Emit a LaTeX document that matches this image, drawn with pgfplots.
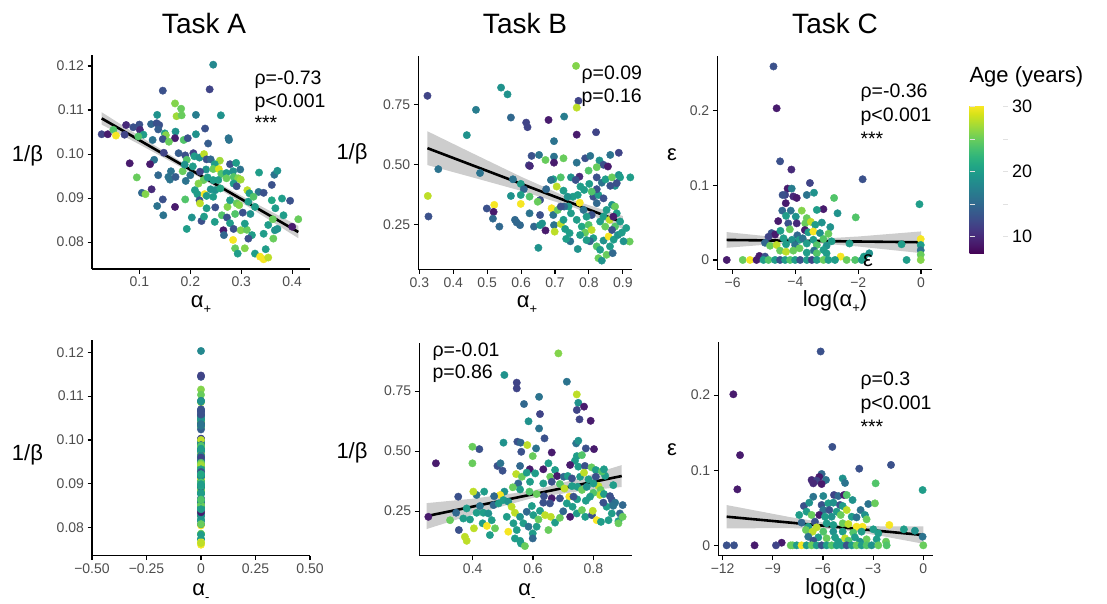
\documentclass[border=0pt]{standalone}
\usepackage{fontspec}
\setmainfont{Liberation Sans}
\usepackage{pgfplots}
\usepackage{pgfplotstable}
\pgfplotsset{compat=1.18}
\definecolor{tickgray}{RGB}{77,77,77}
\definecolor{cbtick}{RGB}{225,225,225}
\newcommand{\fs}[1]{\fontsize{#1}{#1}\selectfont}
\newcommand{\sub}[1]{\raisebox{-0.28em}{\fs{13}#1}}

\pgfplotstableread{
x y a
0.245 0.1203 18
0.146 0.1144 13
0.238 0.1147 12
0.170 0.1115 26
0.182 0.1103 25
0.135 0.1089 19
0.173 0.1086 27
0.183 0.1088 25
0.211 0.1089 17
0.260 0.1088 19
0.026 0.1045 12
0.038 0.1045 9
0.049 0.1055 24
0.054 0.1042 30
0.074 0.1066 10
0.071 0.1044 12
0.088 0.1061 13
0.100 0.1067 13
0.101 0.1055 10
0.108 0.1044 20
0.098 0.1040 24
0.123 0.1068 15
0.134 0.1070 13
0.139 0.1066 13
0.137 0.1056 14
0.150 0.1047 20
0.152 0.1043 26
0.146 0.1034 13
0.126 0.1032 16
0.171 0.1051 19
0.170 0.1036 9
0.158 0.1028 25
0.187 0.1032 24
0.195 0.1036 13
0.211 0.1045 19
0.229 0.1058 13
0.235 0.1024 14
0.129 0.0987 16
0.081 0.0979 9
0.121 0.0977 9
0.148 0.1003 12
0.177 0.1002 14
0.190 0.0997 13
0.206 0.1002 12
0.208 0.0995 20
0.218 0.0992 19
0.227 0.1000 28
0.232 0.0988 13
0.240 0.0988 15
0.258 0.0985 27
0.248 0.0977 20
0.278 0.0977 13
0.275 0.1036 16
0.276 0.1032 16
0.193 0.0987 24
0.185 0.0961 25
0.162 0.0961 16
0.189 0.0976 19
0.205 0.0972 20
0.231 0.0965 19
0.245 0.0966 25
0.256 0.0966 29
0.261 0.0955 24
0.271 0.0957 20
0.284 0.0961 19
0.298 0.0965 16
0.290 0.0980 20
0.335 0.0958 20
0.365 0.0953 16
0.371 0.0962 19
0.360 0.0930 13
0.095 0.0947 25
0.137 0.0952 15
0.157 0.0948 16
0.160 0.0942 16
0.171 0.0948 14
0.191 0.0939 16
0.200 0.0952 16
0.219 0.0960 12
0.226 0.0941 25
0.216 0.0933 26
0.234 0.0947 20
0.245 0.0941 20
0.255 0.0941 20
0.271 0.0945 25
0.285 0.0948 24
0.294 0.0945 26
0.299 0.0942 27
0.285 0.0933 20
0.291 0.0927 13
0.312 0.0918 28
0.316 0.0911 20
0.334 0.0914 16
0.344 0.0912 13
0.105 0.0912 15
0.124 0.0920 10
0.112 0.0909 26
0.146 0.0897 13
0.135 0.0882 16
0.170 0.0880 9
0.147 0.0861 16
0.190 0.0897 24
0.209 0.0918 20
0.214 0.0909 20
0.218 0.0895 13
0.219 0.0888 28
0.228 0.0909 30
0.232 0.0905 20
0.240 0.0920 19
0.249 0.0918 19
0.259 0.0922 21
0.245 0.0903 20
0.232 0.0877 20
0.249 0.0879 13
0.222 0.0848 13
0.203 0.0856 19
0.193 0.0830 20
0.227 0.0858 20
0.248 0.0846 20
0.262 0.0861 24
0.273 0.0880 26
0.278 0.0895 20
0.291 0.0888 25
0.296 0.0884 26
0.303 0.0867 13
0.314 0.0892 20
0.324 0.0903 24
0.327 0.0880 20
0.272 0.0856 13
0.278 0.0843 20
0.285 0.0830 13
0.265 0.0827 9
0.266 0.0816 15
0.284 0.0805 30
0.299 0.0827 26
0.311 0.0828 25
0.321 0.0816 20
0.314 0.0808 13
0.307 0.0786 26
0.288 0.0786 25
0.293 0.0774 20
0.327 0.0774 20
0.337 0.0767 30
0.344 0.0761 30
0.353 0.0765 28
0.348 0.0784 20
0.344 0.0819 20
0.353 0.0839 20
0.363 0.0808 25
0.366 0.0827 19
0.371 0.0830 19
0.362 0.0852 25
0.383 0.0861 20
0.400 0.0835 9
0.412 0.0852 25
0.396 0.0894 13
0.367 0.0877 20
0.360 0.0895 21
0.380 0.0899 20
0.307 0.0842 20
0.318 0.0864 19
0.288 0.0864 24
}\tabA

\pgfplotstableread{
x y a
0.762 0.909 26
0.324 0.785 12
0.541 0.819 19
0.560 0.791 19
0.769 0.764 12
0.764 0.736 28
0.467 0.727 17
0.570 0.695 15
0.615 0.674 12
0.619 0.655 12
0.681 0.685 9
0.727 0.699 17
0.764 0.624 9
0.821 0.634 12
0.440 0.622 19
0.697 0.597 16
0.356 0.481 16
0.479 0.465 16
0.327 0.285 13
0.325 0.370 28
0.631 0.536 13
0.653 0.540 16
0.623 0.497 12
0.626 0.494 10
0.672 0.519 25
0.697 0.533 16
0.725 0.526 25
0.697 0.508 9
0.764 0.508 16
0.789 0.526 13
0.804 0.536 16
0.831 0.517 19
0.843 0.499 13
0.856 0.492 9
0.863 0.540 16
0.888 0.549 12
0.823 0.489 25
0.799 0.475 24
0.772 0.450 10
0.747 0.447 19
0.717 0.447 24
0.695 0.439 20
0.688 0.436 16
0.576 0.439 16
0.599 0.420 20
0.608 0.398 15
0.674 0.398 15
0.705 0.409 28
0.725 0.392 20
0.761 0.436 13
0.775 0.409 20
0.801 0.420 20
0.823 0.447 13
0.838 0.425 16
0.849 0.439 20
0.868 0.447 25
0.888 0.457 19
0.892 0.447 20
0.877 0.412 19
0.882 0.423 13
0.863 0.412 13
0.922 0.447 20
0.570 0.370 19
0.599 0.374 20
0.625 0.367 24
0.656 0.353 13
0.649 0.346 25
0.599 0.337 30
0.521 0.333 30
0.499 0.318 13
0.519 0.304 9
0.517 0.276 15
0.536 0.243 15
0.582 0.271 15
0.597 0.249 15
0.625 0.298 16
0.638 0.243 15
0.656 0.291 13
0.662 0.256 19
0.672 0.227 9
0.651 0.155 19
0.690 0.319 30
0.695 0.291 16
0.708 0.312 25
0.697 0.249 16
0.699 0.222 28
0.717 0.254 28
0.725 0.271 20
0.730 0.233 20
0.743 0.216 20
0.745 0.182 16
0.767 0.150 19
0.740 0.326 20
0.747 0.298 20
0.753 0.367 20
0.767 0.374 20
0.773 0.342 30
0.764 0.271 20
0.779 0.243 21
0.789 0.218 25
0.799 0.250 24
0.808 0.229 28
0.813 0.195 20
0.803 0.182 15
0.823 0.161 24
0.833 0.147 20
0.828 0.112 25
0.838 0.102 19
0.852 0.126 25
0.870 0.133 15
0.843 0.185 19
0.858 0.202 30
0.873 0.189 20
0.885 0.208 19
0.897 0.218 20
0.920 0.181 25
0.833 0.264 20
0.843 0.285 20
0.852 0.312 20
0.868 0.333 19
0.877 0.326 25
0.882 0.298 20
0.861 0.271 28
0.877 0.243 24
0.892 0.264 20
0.910 0.237 20
0.823 0.340 15
0.813 0.367 13
0.828 0.374 20
0.843 0.360 13
0.823 0.398 13
0.808 0.388 24
0.786 0.395 20
0.737 0.367 19
0.727 0.326 15
0.717 0.326 13
0.784 0.312 16
0.808 0.291 13
0.793 0.284 20
0.774 0.208 20
0.793 0.187 20
0.862 0.161 20
0.902 0.182 19
0.868 0.229 13
0.848 0.243 25
0.872 0.284 9
0.733 0.192 20
0.656 0.249 19
0.587 0.260 15
}\tabB

\pgfplotstableread{
x y a
-4.70 0.259 13
-4.60 0.203 9
-4.49 0.132 13
-4.13 0.121 10
-1.86 0.108 13
-3.54 0.103 12
-4.25 0.0955 9
-4.12 0.0955 17
-4.33 0.087 12
-4.41 0.087 13
-4.07 0.085 10
-3.96 0.083 9
-3.64 0.087 16
-3.41 0.090 19
-2.77 0.083 24
-0.05 0.0746 20
-4.31 0.076 9
-4.42 0.066 15
-4.15 0.066 16
-3.80 0.066 26
-3.11 0.068 9
-3.32 0.067 20
-2.66 0.0625 19
-2.08 0.057 24
-4.30 0.059 20
-3.99 0.058 19
-3.64 0.056 25
-4.55 0.052 9
-4.23 0.049 13
-3.96 0.049 10
-3.69 0.049 25
-3.51 0.051 28
-3.37 0.047 20
-3.16 0.050 19
-2.89 0.044 19
-4.76 0.036 13
-4.65 0.034 9
-4.48 0.039 20
-4.18 0.041 25
-3.94 0.033 15
-3.70 0.040 9
-3.59 0.037 20
-3.43 0.038 30
-3.22 0.036 19
-2.95 0.035 25
-4.86 0.031 12
-4.38 0.029 20
-4.11 0.027 19
-3.87 0.027 20
-3.77 0.029 16
-3.43 0.027 20
-3.11 0.028 24
-2.85 0.025 20
-2.28 0.022 20
-4.97 0.023 15
-4.81 0.019 25
-4.60 0.020 28
-4.30 0.021 20
-4.01 0.020 16
-3.64 0.022 20
-3.32 0.020 24
-3.01 0.019 19
-0.62 0.021 20
-0.01 0.028 30
-0.01 0.020 20
-0.01 0.013 16
-0.01 0.007 25
-0.01 0.000 26
-4.49 0.0125 25
-4.30 0.011 28
-4.07 0.0125 25
-3.87 0.0156 25
-3.64 0.0098 20
-3.41 0.0125 16
-3.11 0.0134 20
-5.15 0.0054 9
-4.97 0.0045 13
-3.32 0.0089 24
-3.01 0.0089 20
-1.82 0.0045 20
-1.65 0.0089 19
-2.56 0.0045 30
-6.19 0 9
-5.68 0 25
-5.45 0 30
-5.24 0 9
-5.02 0 20
-4.86 0 24
-4.65 0 20
-4.49 0 13
-4.33 0 20
-4.17 0 24
-4.01 0 20
-3.85 0 13
-3.64 0 20
-3.48 0 12
-3.32 0 20
-3.11 0 25
-2.95 0 20
-2.74 0 20
-2.37 0 25
-2.10 0 24
-1.89 0 20
-0.46 0 20
}\tabC

\pgfplotstableread{
x y a
0.684 0.907 26
0.505 0.817 19
0.712 0.789 16
0.546 0.785 12
0.546 0.761 12
0.745 0.736 28
0.750 0.701 19
0.570 0.696 15
0.620 0.726 16
0.769 0.685 9
0.745 0.671 12
0.623 0.654 12
0.754 0.632 12
0.791 0.626 9
0.585 0.624 19
0.620 0.594 16
0.638 0.553 13
0.502 0.535 19
0.548 0.539 13
0.559 0.535 15
0.581 0.525 28
0.743 0.532 16
0.750 0.543 19
0.422 0.508 13
0.399 0.518 25
0.561 0.497 13
0.610 0.511 16
0.599 0.479 25
0.662 0.494 9
0.775 0.511 13
0.802 0.508 9
0.278 0.449 9
0.399 0.449 25
0.557 0.438 15
0.482 0.438 13
0.492 0.449 16
0.499 0.418 13
0.651 0.449 20
0.589 0.424 9
0.634 0.424 9
0.673 0.421 20
0.739 0.460 20
0.723 0.442 9
0.750 0.435 20
0.772 0.438 13
0.794 0.432 25
0.808 0.421 20
0.745 0.479 20
0.762 0.483 24
0.544 0.404 28
0.563 0.393 25
0.579 0.410 20
0.607 0.407 20
0.657 0.393 25
0.680 0.396 9
0.702 0.393 15
0.715 0.396 20
0.729 0.386 13
0.756 0.393 20
0.769 0.410 28
0.784 0.382 20
0.808 0.393 13
0.839 0.397 20
0.551 0.365 15
0.590 0.372 20
0.634 0.365 20
0.662 0.372 13
0.689 0.363 24
0.704 0.344 28
0.729 0.354 20
0.747 0.351 20
0.762 0.338 25
0.778 0.351 19
0.817 0.354 28
0.824 0.338 25
0.822 0.317 28
0.835 0.321 20
0.855 0.312 13
0.861 0.296 13
0.872 0.285 16
0.864 0.275 15
0.844 0.268 20
0.833 0.285 13
0.800 0.326 24
0.789 0.310 20
0.775 0.293 20
0.746 0.299 20
0.720 0.310 30
0.689 0.303 13
0.662 0.303 9
0.636 0.312 13
0.612 0.321 25
0.588 0.331 24
0.533 0.349 25
0.557 0.340 20
0.505 0.331 19
0.491 0.317 30
0.471 0.312 15
0.438 0.331 20
0.413 0.317 16
0.402 0.331 28
0.352 0.310 13
0.345 0.243 15
0.325 0.212 25
0.253 0.226 9
0.354 0.171 13
0.369 0.219 20
0.380 0.261 20
0.391 0.215 20
0.374 0.143 28
0.380 0.126 28
0.404 0.178 28
0.413 0.243 20
0.424 0.271 16
0.435 0.243 20
0.452 0.240 19
0.433 0.199 20
0.447 0.188 30
0.463 0.212 20
0.474 0.178 25
0.457 0.150 20
0.469 0.275 15
0.486 0.282 20
0.502 0.296 20
0.518 0.289 19
0.529 0.268 28
0.513 0.226 20
0.518 0.164 30
0.540 0.243 28
0.535 0.199 20
0.546 0.171 20
0.540 0.136 20
0.557 0.126 20
0.560 0.115 20
0.573 0.104 25
0.557 0.226 19
0.568 0.199 20
0.585 0.185 16
0.579 0.247 15
0.596 0.271 20
0.601 0.233 20
0.599 0.157 20
0.599 0.136 15
0.612 0.185 20
0.618 0.215 25
0.623 0.251 20
0.634 0.285 13
0.640 0.233 28
0.656 0.282 13
0.659 0.226 28
0.673 0.202 20
0.651 0.171 25
0.689 0.222 25
0.700 0.249 15
0.712 0.282 20
0.723 0.226 9
0.731 0.268 20
0.745 0.240 20
0.762 0.254 25
0.773 0.226 20
0.795 0.233 13
0.811 0.212 30
0.798 0.251 28
0.825 0.205 20
0.850 0.212 20
0.861 0.240 20
0.866 0.272 16
0.883 0.208 20
0.888 0.240 15
0.897 0.275 15
0.883 0.199 25
0.897 0.226 25
0.866 0.358 20
0.828 0.415 24
0.835 0.424 20
0.800 0.365 20
0.734 0.310 13
}\tabD

\pgfplotstableread{
x y a
-6.14 0.258 13
-11.36 0.201 9
-10.96 0.120 9
-5.44 0.131 13
-3.83 0.102 13
-1.93 0.107 13
-11.12 0.0745 9
-0.04 0.0736 20
-6.08 0.095 15
-6.22 0.091 9
-6.68 0.087 10
-6.38 0.086 12
-5.82 0.087 16
-4.82 0.089 19
-4.68 0.083 16
-6.08 0.0816 9
-6.58 0.0825 10
-2.85 0.0825 24
-6.58 0.0647 16
-5.98 0.0656 18
-5.34 0.0670 12
-5.08 0.0656 15
-4.74 0.0670 9
-4.58 0.0670 24
-4.23 0.0603 19
-3.29 0.0550 16
-2.89 0.0559 25
-7.14 0.0523 13
-6.82 0.0568 19
-6.08 0.0537 13
-5.68 0.0559 20
-5.38 0.0568 19
-4.98 0.0537 13
-4.82 0.0523 20
-6.98 0.0448 20
-5.98 0.0470 16
-5.62 0.0470 13
-5.18 0.0448 20
-4.58 0.0470 28
-3.75 0.0470 16
-3.49 0.0404 19
-7.42 0.0404 20
-6.68 0.0404 25
-6.22 0.0404 9
-5.88 0.0381 20
-5.48 0.0381 19
-4.94 0.0404 25
-4.28 0.0381 20
-3.99 0.0372 16
-3.39 0.0346 25
-2.03 0.0271 30
-7.28 0.0302 15
-6.48 0.0315 13
-6.88 0.0248 20
-6.38 0.0239 28
-5.78 0.0293 20
-5.38 0.0271 20
-4.82 0.0293 25
-4.48 0.0284 28
-3.99 0.0248 30
-3.63 0.0248 30
-2.99 0.0213 20
-1.16 0.0213 20
-0.50 0.0195 19
-7.02 0.0204 25
-6.62 0.0182 28
-5.98 0.0182 24
-5.38 0.0182 19
-4.82 0.0182 20
-4.19 0.0169 24
-3.69 0.0182 20
-2.69 0.0160 20
-0.04 0.0115 16
-6.88 0.0115 16
-6.28 0.0106 20
-5.78 0.0093 25
-5.28 0.0106 20
-4.68 0.0093 28
-4.09 0.0106 20
-3.39 0.0080 25
-2.79 0.0080 20
-2.23 0.0049 25
-8.47 0.0035 9
-6.58 0.0062 13
-5.08 0.0049 20
-4.48 0.0062 24
-3.79 0.0049 19
-11.76 0 13
-11.32 0 13
-10.09 0 9
-8.81 0 12
-7.93 0 25
-7.81 0 25
-7.57 0 20
-7.28 0 30
-6.98 0 20
-6.68 0 25
-6.38 0 20
-6.08 0 13
-5.78 0 20
-5.48 0 24
-5.18 0 20
-4.88 0 20
-4.58 0 13
-4.28 0 20
-3.99 0 25
-3.69 0 20
-3.39 0 24
-3.09 0 19
-2.69 0 25
-2.19 0 24
0.00 0 25
}\tabE

\pgfplotsset{
  panel/.style={
    scale only axis,
    axis x line*=bottom, axis y line*=left,
    axis line style={-, line width=1.4pt, black},
    tick style={line width=1.1pt, black},
    major tick length=4.5pt,
    tick align=outside,
    ticklabel style={font=\fs{14}, text=tickgray},
    colormap/viridis,
    point meta min=7.34, point meta max=30.26,
  },
  pts/.style={scatter, only marks, mark=*, mark size=3.7pt, scatter src=explicit,
    scatter/use mapped color={draw=mapped color, fill=mapped color}},
  band/.style={fill=black!60, fill opacity=0.33, draw=none},
  fit/.style={black, line width=2.6pt},
}

\begin{document}
\begin{tikzpicture}
\useasboundingbox (0pt,0pt) rectangle (1107pt,603pt);

% ---- Task A, alpha+
\begin{axis}[panel, at={(92pt,334pt)}, anchor=south west, width=218pt, height=214pt,
  xmin=0.007, xmax=0.435, ymin=0.0739, ymax=0.1225,
  xtick={0.1,0.2,0.3,0.4}, xticklabels={0.1,0.2,0.3,0.4},
  ytick={0.08,0.09,0.10,0.11,0.12}, yticklabels={0.08,0.09,0.10,0.11,0.12}]
\addplot[pts] table[x=x, y=y, meta=a] {\tabA};
\addplot[band] coordinates {(0.026,0.1095) (0.1,0.1041) (0.22,0.0956) (0.32,0.0893) (0.412,0.0837)
  (0.412,0.0809) (0.32,0.0876) (0.22,0.0946) (0.1,0.1022) (0.026,0.1067)} -- cycle;
\addplot[fit] coordinates {(0.026,0.1081) (0.412,0.0823)};
\end{axis}

% ---- Task B, alpha+
\begin{axis}[panel, at={(418.3pt,333.7pt)}, anchor=south west, width=213.7pt, height=213.3pt,
  xmin=0.297, xmax=0.927, ymin=0.066, ymax=0.95,
  xtick={0.3,0.4,0.5,0.6,0.7,0.8,0.9}, xticklabels={0.3,0.4,0.5,0.6,0.7,0.8,0.9},
  ytick={0.25,0.5,0.75}, yticklabels={0.25,0.50,0.75}]
\addplot[pts] table[x=x, y=y, meta=a] {\tabB};
\addplot[band] coordinates {(0.324,0.638) (0.45,0.5515) (0.6,0.4496) (0.76,0.3499) (0.9,0.2866)
  (0.9,0.2334) (0.76,0.3199) (0.6,0.3912) (0.45,0.4497) (0.324,0.498)} -- cycle;
\addplot[fit] coordinates {(0.324,0.568) (0.9,0.260)};
\end{axis}

% ---- Task C, log alpha+
\begin{axis}[panel, at={(717.3pt,333.7pt)}, anchor=south west, width=214.4pt, height=213.3pt,
  xmin=-6.49, xmax=0.34, ymin=-0.0125, ymax=0.273,
  xtick={-6,-4,-2,0}, xticklabels={−6,−4,−2,0},
  ytick={0,0.1,0.2}, yticklabels={0,0.1,0.2}]
\addplot[pts] table[x=x, y=y, meta=a] {\tabC};
\addplot[band] coordinates {(-6.19,0.0373) (-4.8,0.0313) (-3.6,0.0275) (-2,0.0314) (0,0.0382)
  (0,0.0092) (-2,0.0180) (-3.6,0.0235) (-4.8,0.0209) (-6.19,0.0163)} -- cycle;
\addplot[fit] coordinates {(-6.19,0.0268) (0,0.0237)};
\end{axis}

% ---- Task A, alpha-
\begin{axis}[panel, at={(92pt,47.3pt)}, anchor=south west, width=218pt, height=215.7pt,
  xmin=-0.5, xmax=0.5, ymin=0.0736, ymax=0.1228,
  xtick={-0.5,-0.25,0,0.25,0.5}, xticklabels={−0.50,−0.25,0,0.25,0.50},
  ytick={0.08,0.09,0.10,0.11,0.12}, yticklabels={0.08,0.09,0.10,0.11,0.12}]
\addplot[pts] table[x expr=0, y=y, meta=a] {\tabA};
\end{axis}

% ---- Task B, alpha-
\begin{axis}[panel, at={(419.3pt,47.3pt)}, anchor=south west, width=212.7pt, height=212.4pt,
  xmin=0.223, xmax=0.928, ymin=0.064, ymax=0.949,
  xtick={0.4,0.6,0.8}, xticklabels={0.4,0.6,0.8},
  ytick={0.25,0.5,0.75}, yticklabels={0.25,0.50,0.75}]
\addplot[pts] table[x=x, y=y, meta=a] {\tabD};
\addplot[band] coordinates {(0.247,0.283) (0.4,0.3015) (0.6,0.3351) (0.75,0.3855) (0.894,0.4417)
  (0.894,0.3503) (0.75,0.3321) (0.6,0.3051) (0.4,0.2355) (0.247,0.175)} -- cycle;
\addplot[fit] coordinates {(0.247,0.229) (0.894,0.396)};
\end{axis}

% ---- Task C, log alpha-
\begin{axis}[panel, at={(718.3pt,47.3pt)}, anchor=south west, width=215pt, height=214pt,
  xmin=-12.26, xmax=0.6, ymin=-0.0138, ymax=0.271,
  xtick={-12,-9,-6,-3,0}, xticklabels={−12,−9,−6,−3,0},
  ytick={0,0.1,0.2}, yticklabels={0,0.1,0.2}]
\addplot[pts] table[x=x, y=y, meta=a] {\tabE};
\addplot[band] coordinates {(-11.76,0.0536) (-8,0.0377) (-5,0.0271) (-2.5,0.0253) (0,0.0253)
  (0,0.0021) (-2.5,0.0125) (-5,0.0211) (-8,0.0229) (-11.76,0.0226)} -- cycle;
\addplot[fit] coordinates {(-11.76,0.0381) (0,0.0137)};
\end{axis}

% ---- colour bar
\begin{axis}[hide axis, scale only axis, at={(961pt,349pt)}, anchor=south west,
  width=38pt, height=149pt, xmin=0, xmax=1, ymin=0, ymax=1,
  colormap/viridis, point meta min=7.34, point meta max=30.26,
  colorbar,
  colorbar style={at={(parent axis.south west)}, anchor=south west,
    width=38pt, height=149pt, scale only axis,
    axis line style={draw=none},
    ytick={10,20,30}, yticklabels={10,20,30}, minor ytick={15,25},
    ytick pos=both, yticklabel pos=right,
    tick align=inside, major tick length=5pt, minor tick length=5pt,
    tick style={draw=cbtick, line width=1.3pt},
    yticklabel style={font=\fs{18}, text=black, xshift=1pt}}]
\addplot[draw=none] coordinates {(0,0) (1,1)};
\end{axis}

% ---- texts
\begin{scope}[x=1pt,y=1pt]
\node[anchor=base, font=\fs{28}] at (204,569) {Task A};
\node[anchor=base, font=\fs{28}] at (525,569) {Task B};
\node[anchor=base, font=\fs{28}] at (835,569) {Task C};
\node[anchor=base west, font=\fs{22}] at (966,520) {Age (years)};

\node[anchor=base, font=\fs{22}] at (27.5,441) {1/β};
\node[anchor=base, font=\fs{22}] at (352,443) {1/β};
\node[anchor=base, font=\fs{22}] at (672,442) {ε};
\node[anchor=base, font=\fs{22}] at (27.5,143) {1/β};
\node[anchor=base, font=\fs{22}] at (352,145) {1/β};
\node[anchor=base, font=\fs{22}] at (672,148) {ε};

\node[anchor=base, font=\fs{22}] at (201,296) {α\sub{+}};
\node[anchor=base, font=\fs{22}] at (527,296) {α\sub{+}};
\node[anchor=base, font=\fs{22}] at (835,297) {log(α\sub{+})};
\node[anchor=base, font=\fs{22}] at (201,8) {α\sub{-}};
\node[anchor=base, font=\fs{22}] at (527,8) {α\sub{-}};
\node[anchor=base, font=\fs{22}] at (836,9) {log(α\sub{-})};

\node[anchor=base, font=\fs{22}] at (868,336) {ε};

\node[anchor=base west, font=\fs{19.5}] at (251,518) {ρ=-0.73};
\node[anchor=base west, font=\fs{19.5}] at (251,495.5) {p<0.001};
\node[anchor=base west, font=\fs{19.5}] at (251,473) {***};
\node[anchor=base west, font=\fs{19.5}] at (578,523.7) {ρ=0.09};
\node[anchor=base west, font=\fs{19.5}] at (578,500.3) {p=0.16};
\node[anchor=base west, font=\fs{19.5}] at (857,505.7) {ρ=-0.36};
\node[anchor=base west, font=\fs{19.5}] at (857,481.3) {p<0.001};
\node[anchor=base west, font=\fs{19.5}] at (857,457) {***};
\node[anchor=base west, font=\fs{19.5}] at (429,247) {ρ=-0.01};
\node[anchor=base west, font=\fs{19.5}] at (429,224.7) {p=0.86};
\node[anchor=base west, font=\fs{19.5}] at (857,218) {ρ=0.3};
\node[anchor=base west, font=\fs{19.5}] at (857,193.7) {p<0.001};
\node[anchor=base west, font=\fs{19.5}] at (857,170) {***};
\end{scope}
\end{tikzpicture}
\end{document}
